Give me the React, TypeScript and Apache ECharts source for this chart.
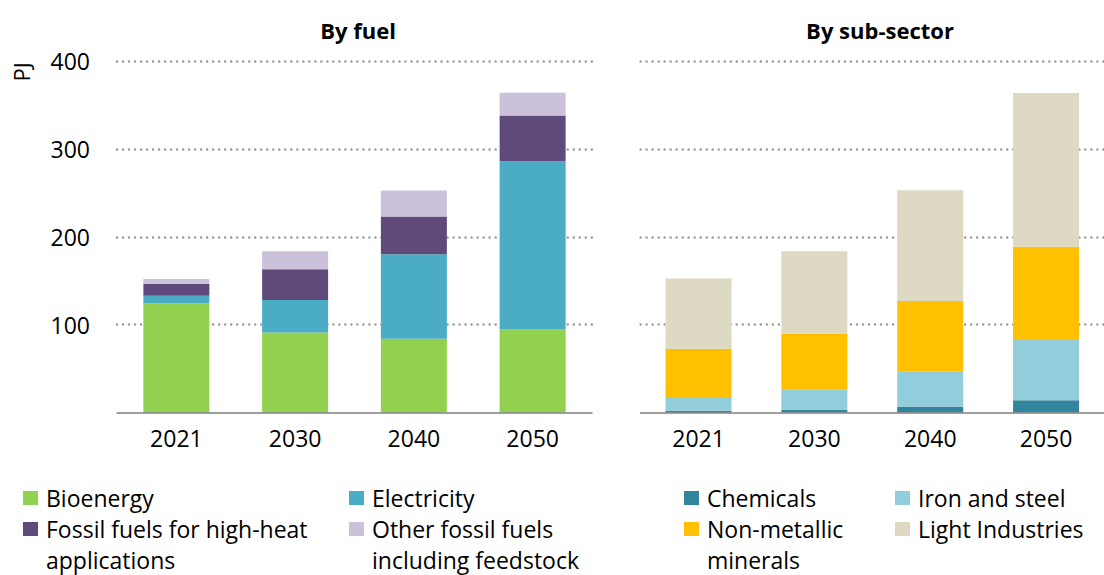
import React, { useEffect, useRef } from "react";
import * as echarts from "echarts";

const years = ["2021", "2030", "2040", "2050"];

// By fuel (PJ)
const bioenergy = [124, 91, 84, 95];
const electricity = [9, 37, 96, 191];
const fossilHighHeat = [13.5, 35, 43, 52];
const otherFossil = [5.5, 20.5, 29.5, 26];

// By sub-sector (PJ)
const chemicals = [2, 3, 6.5, 14];
const ironSteel = [15.5, 23, 40.5, 69.5];
const nonMetallic = [55, 63.5, 80, 105];
const lightIndustries = [80, 94, 126, 175];

const yTicks = [0, 100, 200, 300, 400];

const FONT = '"Open Sans", "Noto Sans", sans-serif';

const fuelSeries = [
  { name: "Bioenergy", data: bioenergy, color: "#92D050" },
  { name: "Electricity", data: electricity, color: "#4BACC6" },
  { name: "Fossil fuels for high-heat applications", data: fossilHighHeat, color: "#604A7B" },
  { name: "Other fossil fuels including feedstock", data: otherFossil, color: "#CCC1DA" },
];
const sectorSeries = [
  { name: "Chemicals", data: chemicals, color: "#31859C" },
  { name: "Iron and steel", data: ironSteel, color: "#92CDDC" },
  { name: "Non-metallic minerals", data: nonMetallic, color: "#FFC000" },
  { name: "Light Industries", data: lightIndustries, color: "#DDD9C3" },
];

const legendItems = [
  { lines: ["Bioenergy"], color: "#92D050", x: 23, row: 0 },
  { lines: ["Electricity"], color: "#4BACC6", x: 349, row: 0 },
  { lines: ["Fossil fuels for high-heat", "applications"], color: "#604A7B", x: 23, row: 1 },
  { lines: ["Other fossil fuels", "including feedstock"], color: "#CCC1DA", x: 349, row: 1 },
  { lines: ["Chemicals"], color: "#31859C", x: 684, row: 0 },
  { lines: ["Iron and steel"], color: "#92CDDC", x: 895, row: 0 },
  { lines: ["Non-metallic", "minerals"], color: "#FFC000", x: 684, row: 1 },
  { lines: ["Light Industries"], color: "#DDD9C3", x: 895, row: 1 },
];

export default function App() {
  const ref = useRef<HTMLDivElement>(null);

  useEffect(() => {
    document.body.style.margin = "0";
    if (!ref.current) return;
    const chart = echarts.init(ref.current, undefined, { renderer: "svg" });

    const gridCommon = { top: 61, bottom: 162.5, containLabel: false };
    const xAxisCommon = {
      type: "category" as const,
      data: years,
      z: 5,
      axisLine: { show: true, lineStyle: { color: "#7f7f7f", width: 1.5 } },
      axisTick: { show: false },
      axisLabel: { color: "#000", fontSize: 23, fontFamily: FONT, margin: 14 },
    };
    const yAxisCommon = {
      type: "value" as const,
      min: yTicks[0],
      max: yTicks[yTicks.length - 1],
      interval: 100,
      axisLine: { show: false },
      axisTick: { show: false },
      splitLine: {
        show: true,
        showMinLine: false,
        lineStyle: { color: "#9a9a9a", width: 2.5, type: [0.01, 6] as any, cap: "round" as any },
      },
    };

    const lineH = 31;
    const row0 = 498;
    const graphics: any[] = [];
    legendItems.forEach((it) => {
      const cy = row0 + it.row * lineH;
      graphics.push({
        type: "rect",
        shape: { x: it.x, y: cy - 7, width: 15, height: 14 },
        style: { fill: it.color },
      });
      it.lines.forEach((ln, i) => {
        graphics.push({
          type: "text",
          x: it.x + 23,
          y: cy + i * lineH,
          style: { text: ln, font: `23px ${FONT}`, fill: "#000", verticalAlign: "middle", align: "left" },
        });
      });
    });
    graphics.push({
      type: "text",
      x: 21,
      y: 72,
      rotation: Math.PI / 2,
      style: { text: "PJ", font: `22px ${FONT}`, fill: "#000", align: "center", verticalAlign: "middle" },
    });

    const mk = (s: any, idx: number, stack: string) => ({
      name: s.name,
      type: "bar",
      stack,
      xAxisIndex: idx,
      yAxisIndex: idx,
      data: s.data,
      barWidth: 66,
      itemStyle: { color: s.color },
    });

    chart.setOption({
      animation: false,
      backgroundColor: "#fff",
      title: [
        { text: "By fuel", left: 353, top: 14, textAlign: "center", textStyle: { fontSize: 22, fontWeight: "bold", fontFamily: FONT, color: "#000" } },
        { text: "By sub-sector", left: 875, top: 14, textAlign: "center", textStyle: { fontSize: 22, fontWeight: "bold", fontFamily: FONT, color: "#000" } },
      ],
      grid: [
        { ...gridCommon, left: 117, width: 475 },
        { ...gridCommon, left: 640.6, width: 473 },
      ],
      xAxis: [
        { ...xAxisCommon, gridIndex: 0 },
        { ...xAxisCommon, gridIndex: 1 },
      ],
      yAxis: [
        {
          ...yAxisCommon,
          gridIndex: 0,
          axisLabel: {
            show: true,
            color: "#000",
            fontSize: 23,
            fontFamily: FONT,
            margin: 27,
            formatter: (v: number) => (v === 0 ? "" : String(v)),
          },
        },
        { ...yAxisCommon, gridIndex: 1, axisLabel: { show: false } },
      ],
      series: [
        ...fuelSeries.map((s) => mk(s, 0, "fuel")),
        ...sectorSeries.map((s) => mk(s, 1, "sector")),
      ],
      graphic: graphics,
    });

    return () => chart.dispose();
  }, []);

  return <div ref={ref} style={{ width: 1104, height: 575 }} />;
}
